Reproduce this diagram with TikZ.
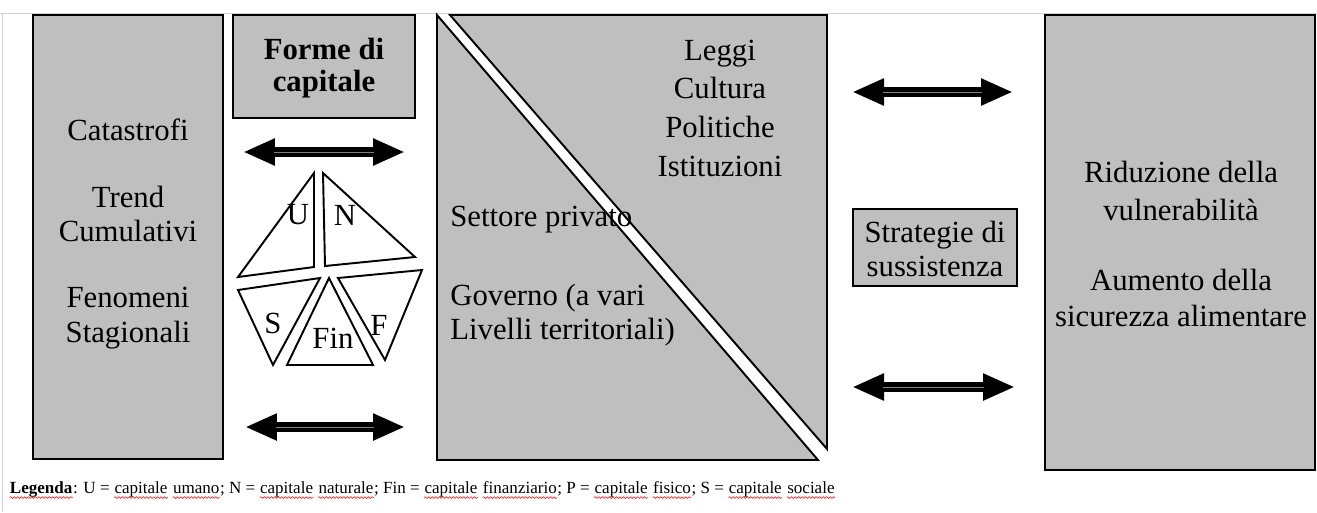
\documentclass[tikz,border=0pt]{standalone}
\usepackage{fontspec}
\setmainfont{Liberation Serif}
\usetikzlibrary{arrows.meta,decorations.pathmorphing}
\definecolor{boxgray}{gray}{0.75}
\newcommand\spellerr[1]{\tikz[baseline=(w.base)]{\node[inner sep=0pt] (w) {#1};
  \draw [red,line width=0.3pt,decorate,decoration={snake,amplitude=0.5pt,segment length=2pt}]
    ([yshift=-2.4pt]w.base west) -- ([yshift=-2.4pt]w.base east);}}

\begin{document}
\begin{tikzpicture}[x=0.02cm,y=-0.02cm,
  box/.style={draw,line width=1.1pt,fill=boxgray},
  txt/.style={font=\fontsize{17.5}{#1}\selectfont,align=center,inner sep=0pt},
  txt/.default=21,
  tri/.style={draw,line width=1.1pt},
  dblarrow/.style={line width=0.2cm,{Triangle[length=0.64cm,width=0.5cm]}-{Triangle[length=0.64cm,width=0.5cm]}}]
\useasboundingbox (0,0) rectangle (1317,512);

% page edge
\draw [gray!35] (0,13) -- (1317,13);
\draw [gray!35] (2,13) -- (2,512);

% vulnerability context
\draw [box] (33,15) rectangle (223,459);
\node [txt] (catastrofi) at (128,130) {Catastrofi};
\node [txt=19.8] (trend) at (128,214) {Trend\\Cumulativi};
\node [txt=19.8] (fenomeni) at (128,318) {Fenomeni\\Stagionali};

% forms of capital
\draw [box] (233,15) rectangle (415,118);
\node [txt=18,font=\fontsize{17.5}{18.5}\selectfont\bfseries] (forme) at (324,68) {Forme di\\capitale};

\draw [tri] (314,173) -- (314,267) -- (238,277) -- cycle;
\draw [tri] (323,173) -- (325,266) -- (415,257) -- cycle;
\draw [tri] (238,290) -- (320,278) -- (273,365) -- cycle;
\draw [tri] (329,278) -- (287,365) -- (373,365) -- cycle;
\draw [tri] (338,278) -- (422,270) -- (385,360) -- cycle;
\node [txt] (cu) at (298,215) {U};
\node [txt] (cn) at (345,215) {N};
\node [txt] (cs) at (273,323) {S};
\node [txt] (cfin) at (333,338) {Fin};
\node [txt] (cf) at (379,325) {F};

% structures and processes
\draw [box] (437,15) -- (437,460) -- (818,460) -- cycle;
\draw [box] (450,15) -- (827,15) -- (827,449) -- cycle;
\node [txt=22] (leggi) at (720,108) {Leggi\\Cultura\\Politiche\\Istituzioni};
\node [txt,anchor=west] (privato) at (450,220) {Settore privato};
\node [txt=19.8,anchor=west,align=left] (governo) at (450,315) {Governo (a vari\\Livelli territoriali)};

% livelihood strategies
\draw [box] (853,209) rectangle (1017,286);
\node [txt=19.8] (strategie) at (935,249) {Strategie di\\sussistenza};

% outcomes
\draw [box] (1045,15) rectangle (1315,470);
\node [txt=21.5] (riduzione) at (1181,191) {Riduzione della\\vulnerabilità};
\node [txt=21] (aumento) at (1181,298) {Aumento della\\sicurezza alimentare};

% arrows
\coordinate (a1) at (243,152); \coordinate (b1) at (405,152);
\coordinate (a2) at (245,427); \coordinate (b2) at (405,427);
\coordinate (a3) at (852,92);  \coordinate (b3) at (1013,92);
\coordinate (a4) at (852,387); \coordinate (b4) at (1015,387);
\foreach \i in {1,...,4} {
  \draw [dblarrow] (a\i) -- (b\i);
  \draw [gray,line width=0.4pt,shorten <=0.62cm,shorten >=0.62cm] (a\i) -- (b\i);
}

\node [anchor=west,inner sep=0pt,font=\fontsize{9.7}{12}\selectfont] (legenda) at (9,490)
  {\spellerr{\textbf{Legenda}}: U = \spellerr{capitale} \spellerr{umano}; N = \spellerr{capitale} \spellerr{naturale}; Fin = \spellerr{capitale} \spellerr{finanziario}; P = \spellerr{capitale} \spellerr{fisico}; S = \spellerr{capitale} \spellerr{sociale}};
\end{tikzpicture}
\end{document}
